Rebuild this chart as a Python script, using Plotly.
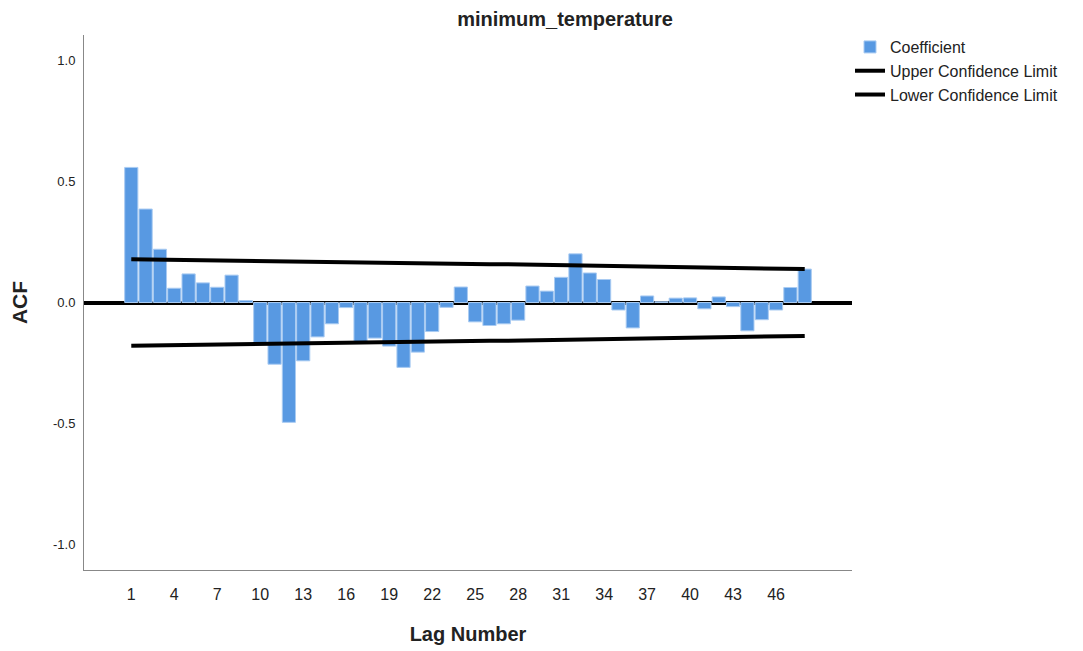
import plotly.graph_objects as go

lags = list(range(1, 49))
acf = [0.558, 0.386, 0.220, 0.059, 0.118, 0.081, 0.063, 0.113, 0.008, -0.168,
       -0.255, -0.495, -0.241, -0.142, -0.088, -0.021, -0.163, -0.147, -0.180, -0.268,
       -0.205, -0.120, -0.020, 0.064, -0.080, -0.095, -0.088, -0.073, 0.068, 0.047,
       0.104, 0.201, 0.122, 0.095, -0.031, -0.105, 0.027, 0.003, 0.018, 0.019,
       -0.026, 0.023, -0.017, -0.117, -0.071, -0.031, 0.062, 0.138]
upper = [0.179, 0.178, 0.177, 0.177, 0.176, 0.175, 0.174, 0.173, 0.173, 0.172,
         0.171, 0.170, 0.169, 0.169, 0.168, 0.167, 0.166, 0.165, 0.164, 0.164,
         0.163, 0.162, 0.161, 0.160, 0.159, 0.158, 0.158, 0.157, 0.156, 0.155,
         0.154, 0.153, 0.152, 0.151, 0.150, 0.150, 0.149, 0.148, 0.147, 0.146,
         0.145, 0.144, 0.143, 0.142, 0.141, 0.140, 0.139, 0.138]
lower = [-0.179, -0.178, -0.177, -0.177, -0.176, -0.175, -0.174, -0.173, -0.173, -0.172,
         -0.171, -0.170, -0.169, -0.169, -0.168, -0.167, -0.166, -0.165, -0.164, -0.164,
         -0.163, -0.162, -0.161, -0.160, -0.159, -0.158, -0.158, -0.157, -0.156, -0.155,
         -0.154, -0.153, -0.152, -0.151, -0.150, -0.150, -0.149, -0.148, -0.147, -0.146,
         -0.145, -0.144, -0.143, -0.142, -0.141, -0.140, -0.139, -0.138]
xticks = list(range(1, 47, 3))
yticks = [-1.0, -0.5, 0.0, 0.5, 1.0]

FONT = "Liberation Sans, Arial, sans-serif"

fig = go.Figure()
fig.add_trace(go.Bar(x=lags, y=acf, name="Coefficient",
                     marker=dict(color="#5899E2", line=dict(color="#A9CBF2", width=1))))
fig.add_trace(go.Scatter(x=lags, y=upper, mode="lines", name="Upper Confidence Limit",
                         line=dict(color="black", width=4)))
fig.add_trace(go.Scatter(x=lags, y=lower, mode="lines", name="Lower Confidence Limit",
                         line=dict(color="black", width=4)))

fig.update_layout(
    width=1083, height=651,
    paper_bgcolor="white", plot_bgcolor="white",
    margin=dict(l=76, r=239, t=27, b=89, autoexpand=False),
    font=dict(family=FONT, color="#222"),
    title=dict(text="<b>minimum_temperature</b>", x=557 / 1083, xref="container",
               y=1 - 11 / 651, yref="container",
               xanchor="center", yanchor="middle", font=dict(size=20, color="#222")),
    bargap=0.08,
    showlegend=True,
    legend=dict(x=0.9974, y=1.0093, xanchor="left", yanchor="top", font=dict(size=16, color="#222"),
                tracegroupgap=0, itemwidth=30, bgcolor="rgba(0,0,0,0)"),
)
fig.update_xaxes(range=[-2.3, 51.3], tickvals=xticks, ticktext=[str(v) for v in xticks],
                 showgrid=False, showline=True, linecolor="#888", linewidth=1, mirror=False,
                 ticks="outside", ticklen=10, tickcolor="rgba(0,0,0,0)", automargin=False,
                 tickfont=dict(size=16, color="#222"),
                 title=dict(text="<b>Lag Number</b>", font=dict(size=20, color="#222"), standoff=24),
                 zeroline=False)
fig.update_yaxes(range=[-1.105, 1.105], tickvals=yticks, ticktext=["-1.0", "-0.5", "0.0", "0.5", "1.0"],
                 showgrid=False, showline=True, linecolor="#888", linewidth=1, automargin=False,
                 ticks="outside", ticklen=5, tickcolor="rgba(0,0,0,0)",
                 tickfont=dict(size=13, color="#222"),
                 title=dict(text="<b>ACF</b>", font=dict(size=21, color="#222"), standoff=23),
                 zeroline=True, zerolinecolor="black", zerolinewidth=4)

fig.write_html("out.html")
